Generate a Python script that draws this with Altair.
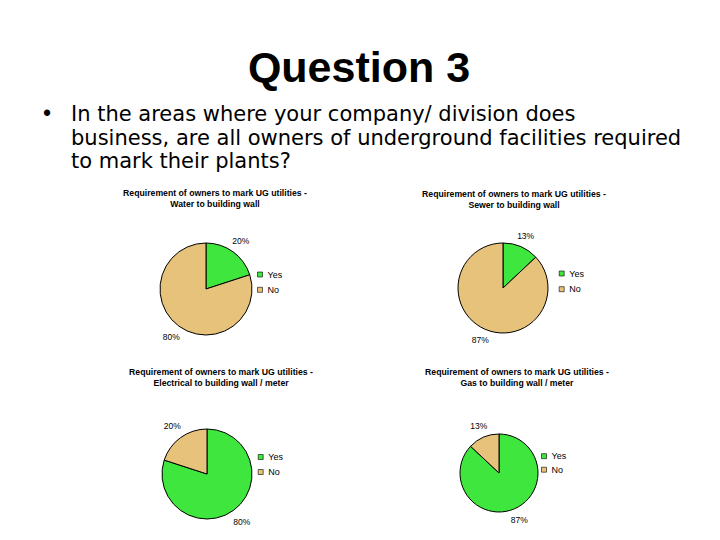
import altair as alt
import pandas as pd

# ---- data ----
heading = "Question 3"
bullet_lines = [
    "In the areas where your company/ division does",
    "business, are all owners of underground facilities required",
    "to mark their plants?",
]
chart_title_top = "Requirement of owners to mark UG utilities -"
utilities = [
    "Water to building wall",
    "Sewer to building wall",
    "Electrical to building wall / meter",
    "Gas to building wall / meter",
]
answers = ["Yes", "No"]
yes_pct = [20, 13, 80, 87]
no_pct = [80, 87, 20, 13]

# ---- styles / layout (chart coordinates) ----
colors = ["#3ee63e", "#e6c27a"]
FONT = "Liberation Sans"
BODY_FONT = "DejaVu Sans"
layout = [
    dict(cx=198, cy=281, r=46, lr=59, tx=207, ty=188, lgx=247.5, lgy=262, rp=5.3),
    dict(cx=495, cy=280, r=45, lr=57, tx=506, ty=189, lgx=549.2, lgy=261, rp=5.7),
    dict(cx=199, cy=466, r=45, lr=59, tx=213, ty=367, lgx=248.2, lgy=444.5, rp=5.0),
    dict(cx=491, cy=465, r=39, lr=51, tx=509, ty=367, lgx=531.5, lgy=443.7, rp=3.5),
]

layers = []

# header
head_df = pd.DataFrame({"t": [heading]})
layers.append(
    alt.Chart(head_df).mark_text(
        font=FONT, fontSize=43, fontWeight="bold", align="center",
        baseline="alphabetic", color="black"
    ).encode(text="t:N", x=alt.value(351), y=alt.value(74))
)
bullet_df = pd.DataFrame({"t": ["\u2022"]})
layers.append(
    alt.Chart(bullet_df).mark_text(
        font=FONT, fontSize=23, align="left", baseline="alphabetic", color="black"
    ).encode(text="t:N", x=alt.value(35), y=alt.value(113))
)
body_df = pd.DataFrame({"t": ["\n".join(bullet_lines)]})
layers.append(
    alt.Chart(body_df).mark_text(
        font=BODY_FONT, fontSize=21, align="left", baseline="alphabetic",
        lineBreak="\n", lineHeight=23.5, color="black"
    ).encode(text="t:N", x=alt.value(63), y=alt.value(113))
)

# pies
for k, util in enumerate(utilities):
    L = layout[k]
    df = pd.DataFrame({
        "answer": answers,
        "pct": [yes_pct[k], no_pct[k]],
    })
    df["rank"] = range(len(df))
    df["label"] = df["pct"].astype(str) + "%"

    arc = alt.Chart(df).mark_arc(
        outerRadius=L["r"], stroke="black", strokeWidth=1
    ).encode(
        theta=alt.Theta("pct:Q", stack=True),
        order=alt.Order("rank:Q"),
        color=alt.Color(
            "answer:N",
            scale=alt.Scale(domain=answers, range=colors),
            sort=answers,
            title=None,
            legend=alt.Legend(
                orient="none", legendX=L["lgx"], legendY=L["lgy"],
                symbolType="square", symbolSize=25,
                symbolStrokeColor="black", symbolStrokeWidth=0.6,
                labelFont=FONT, labelFontSize=9, labelColor="black",
                labelOffset=3, rowPadding=L["rp"], padding=0,
            ),
        ),
        x=alt.value(L["cx"]),
        y=alt.value(L["cy"]),
    )
    lab = alt.Chart(df).mark_text(
        radius=L["lr"], font=FONT, fontSize=8.5, color="black"
    ).encode(
        theta=alt.Theta("pct:Q", stack=True),
        order=alt.Order("rank:Q"),
        text="label:N",
        x=alt.value(L["cx"]),
        y=alt.value(L["cy"]),
    )
    ttl = alt.Chart(pd.DataFrame({"t": [chart_title_top + "\n" + util]})).mark_text(
        font=FONT, fontSize=8.7, fontWeight="bold", align="center",
        baseline="alphabetic", lineBreak="\n", lineHeight=11, color="black"
    ).encode(text="t:N", x=alt.value(L["tx"]), y=alt.value(L["ty"]))
    layers += [arc, lab, ttl]

chart = alt.layer(*layers).resolve_scale(color="independent").properties(
    width=704, height=524, padding=0, autosize=alt.AutoSizeParams(type="none"),
    background="white",
).configure_view(stroke=None)

chart.save("out.html", embed_options={"renderer": "svg", "actions": False})
